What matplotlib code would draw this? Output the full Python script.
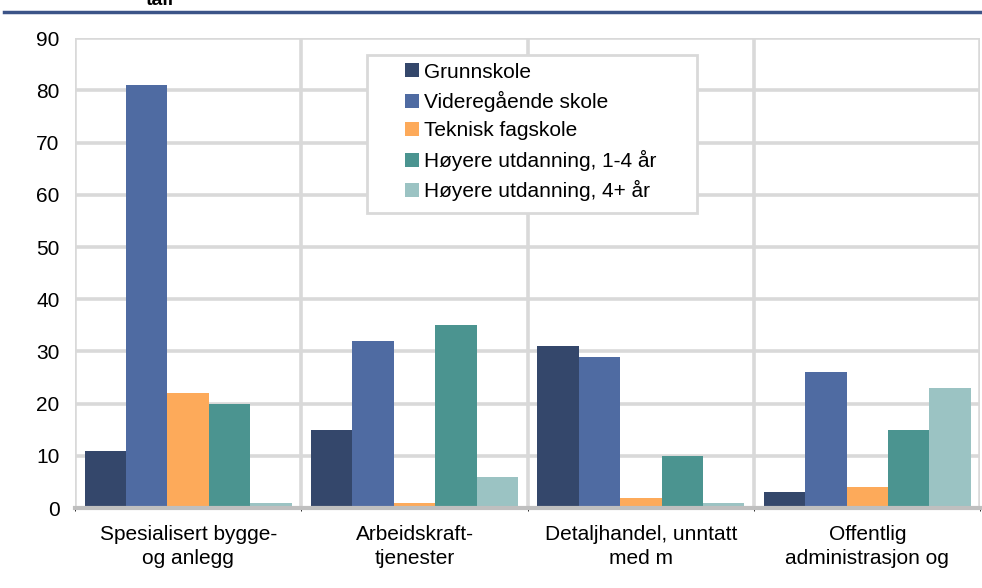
import matplotlib.pyplot as plt
from matplotlib.patches import Rectangle
import numpy as np

plt.rcParams['font.family'] = ['Liberation Sans', 'DejaVu Sans']

categories = ['Spesialisert bygge-\nog anlegg', 'Arbeidskraft-\ntjenester',
              'Detaljhandel, unntatt\nmed m', 'Offentlig\nadministrasjon og']
series = ['Grunnskole', 'Videregående skole', 'Teknisk fagskole',
          'Høyere utdanning, 1-4 år', 'Høyere utdanning, 4+ år']
values = [
    [11, 15, 31, 3],
    [81, 32, 29, 26],
    [22, 1, 2, 4],
    [20, 35, 10, 15],
    [1, 6, 1, 23],
]
colors = ['#34476b', '#4f6ba2', '#fdaa5a', '#4b9490', '#9bc3c3']

fig = plt.figure(figsize=(9.82, 5.88), dpi=100)
ax = fig.add_axes([0.0764, 0.136, 0.922, 0.799])

x = np.arange(len(categories))
width = 0.183
for i, (name, vals) in enumerate(zip(series, values)):
    ax.bar(x + (i - 2) * width, vals, width, color=colors[i], label=name, zorder=3)

ax.set_xlim(-0.5, 3.5)
ax.set_ylim(0, 90)
ax.set_yticks(range(0, 91, 10))
ax.set_xticks(x)
ax.set_xticklabels(categories, fontsize=15, linespacing=1.35)
ax.set_xticks(np.arange(-0.5, 4, 1), minor=True)
ax.tick_params(axis='both', length=0, labelsize=15)
ax.tick_params(axis='y', pad=11)
ax.tick_params(axis='x', pad=12)
ax.grid(axis='y', color='#d9d9d9', linewidth=2.6, zorder=0)
ax.grid(axis='x', which='minor', color='#d9d9d9', linewidth=2.6, zorder=0)
for s in ['top', 'right', 'left']:
    ax.spines[s].set_visible(False)
ax.spines['bottom'].set_color('#bfbfbf')
ax.spines['bottom'].set_linewidth(3)
ax.spines['bottom'].set_zorder(4)

# legend box drawn separately, legend itself without frame
box = Rectangle((0.3227, 0.6277), 0.3646, 0.336, transform=ax.transAxes,
                facecolor='white', edgecolor='#d9d9d9', linewidth=2, zorder=5)
ax.add_patch(box)
leg = ax.legend(loc='upper left', bbox_to_anchor=(0.3646, 0.948), fontsize=15,
                frameon=False, handlelength=0.65, handleheight=0.65,
                handletextpad=0.25, labelspacing=0.45, borderpad=0,
                borderaxespad=0)
leg.set_zorder(6)

# top rule and clipped heading
fig.add_artist(plt.Line2D([0.004, 1.0], [0.98, 0.98], color='#3c5488', linewidth=2.5))
fig.text(0.148, 0.992, 'tall', fontsize=14, fontweight='bold', va='baseline')

fig.savefig('out.png', dpi=100)
